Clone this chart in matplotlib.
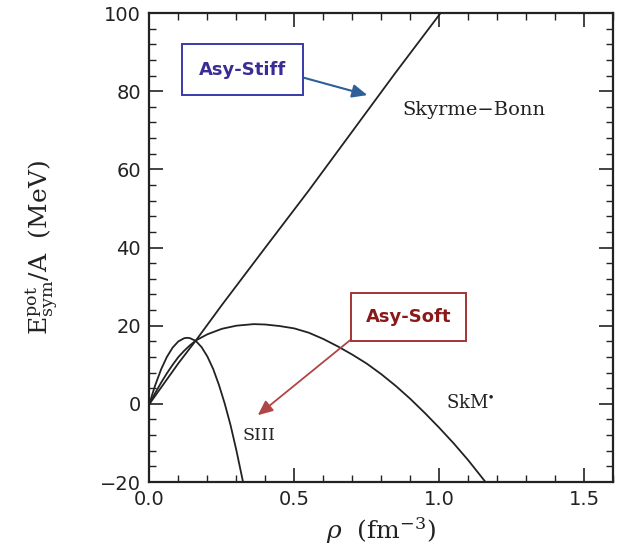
import matplotlib
matplotlib.use("Agg")
import matplotlib.pyplot as plt
from matplotlib.ticker import MultipleLocator

plt.rcParams["mathtext.fontset"] = "dejavuserif"

# Data
bonn_x = [0.0, 0.05, 0.10, 0.162, 0.25, 0.40, 0.55, 0.70, 0.85, 1.005]
bonn_y = [0.0, 5.2, 10.4, 16.4, 25.3, 40.0, 54.6, 69.7, 84.8, 100.0]

siii_x = [0.0, 0.01, 0.02, 0.04, 0.06, 0.08, 0.10, 0.12, 0.13, 0.14, 0.16, 0.18,
          0.20, 0.22, 0.24, 0.26, 0.28, 0.30, 0.323]
siii_y = [0.0, 2.5, 4.8, 8.8, 12.0, 14.4, 16.0, 16.8, 16.9, 16.8, 16.1, 14.5,
          12.1, 8.9, 4.8, 0.0, -5.5, -11.9, -20.0]

skm_x = [0.0, 0.02, 0.04, 0.06, 0.08, 0.10, 0.12, 0.14, 0.162, 0.20, 0.25, 0.30,
         0.36, 0.40, 0.45, 0.50, 0.55, 0.60, 0.65, 0.70, 0.75, 0.80, 0.85,
         0.90, 0.95, 1.00, 1.05, 1.10, 1.16]
skm_y = [0.0, 2.8, 5.4, 7.8, 10.0, 12.0, 13.6, 15.0, 16.3, 17.8, 19.2, 20.0,
         20.4, 20.3, 19.9, 19.3, 18.2, 16.6, 14.7, 12.6, 10.3, 7.6, 4.6,
         1.3, -2.3, -6.1, -10.1, -14.4, -20.0]

x_ticks = [0.0, 0.5, 1.0, 1.5]
x_ticklabels = ["0.0", "0.5", "1.0", "1.5"]
y_ticks = [-20, 0, 20, 40, 60, 80, 100]
y_ticklabels = ["\u221220", "0", "20", "40", "60", "80", "100"]

fig = plt.figure(figsize=(6.21, 5.47), dpi=100)
ax = fig.add_axes([0.2407, 0.1188, 0.7464, 0.8574])

lc = "#222222"
ax.plot(bonn_x, bonn_y, color=lc, lw=1.3)
ax.plot(siii_x, siii_y, color=lc, lw=1.3)
ax.plot(skm_x, skm_y, color=lc, lw=1.3)

ax.set_xlim(0, 1.6)
ax.set_ylim(-20, 100)

ax.set_xticks(x_ticks)
ax.set_xticklabels(x_ticklabels)
ax.set_yticks(y_ticks)
ax.set_yticklabels(y_ticklabels)
ax.xaxis.set_minor_locator(MultipleLocator(0.1))
ax.yaxis.set_minor_locator(MultipleLocator(4))
ax.tick_params(which="both", direction="in", top=True, right=True, color=lc)
ax.tick_params(which="major", length=10, width=1.2, labelsize=14, pad=6)
ax.tick_params(which="minor", length=5, width=1.0)
for lab in ax.get_xticklabels() + ax.get_yticklabels():
    lab.set_family("DejaVu Sans")
    lab.set_color("#222222")
for s in ax.spines.values():
    s.set_linewidth(1.6)
    s.set_color(lc)

serif = "DejaVu Serif"
ax.set_xlabel(r"$\rho$  (fm$^{-3}$)", fontsize=18, family=serif, color=lc, labelpad=4)
ax.set_ylabel(r"E$^{\rm pot}_{\rm sym}$/A  (MeV)", fontsize=18, family=serif, color=lc, labelpad=28)

ax.text(0.872, 75.1, "Skyrme\u2212Bonn", fontsize=14, family=serif, color=lc, va="center", ha="left")
ax.text(1.023, 0.3, r"SkM$^{\bullet}$", fontsize=13, family=serif, color=lc, va="center", ha="left")
ax.text(0.322, -8.2, "SIII", fontsize=12.5, family=serif, color=lc, va="center", ha="left")

# Asy-Stiff annotation
ax.annotate("", xy=(0.752, 79.0), xytext=(0.525, 83.6),
            arrowprops=dict(arrowstyle="-|>,head_length=0.9,head_width=0.4",
                            color="#2d5f9a", lw=1.5, shrinkA=0, shrinkB=0))
ax.text(0.3215, 85.5, "Asy-Stiff", fontsize=13, fontweight="bold", family="Liberation Sans Narrow",
        color="#3a2c96", ha="center", va="center",
        bbox=dict(boxstyle="square,pad=0.92", fc="white", ec="#3a3aaa", lw=1.4))

# Asy-Soft annotation
ax.annotate("", xy=(0.374, -2.9), xytext=(0.696, 16.5),
            arrowprops=dict(arrowstyle="-|>,head_length=0.9,head_width=0.4",
                            color="#b04545", lw=1.3, shrinkA=0, shrinkB=0))
ax.text(0.895, 22.2, "Asy-Soft", fontsize=13, fontweight="bold", family="Liberation Sans Narrow",
        color="#8a1a1a", ha="center", va="center",
        bbox=dict(boxstyle="square,pad=0.82", fc="white", ec="#a33535", lw=1.4))

fig.savefig("out.png", dpi=100)
